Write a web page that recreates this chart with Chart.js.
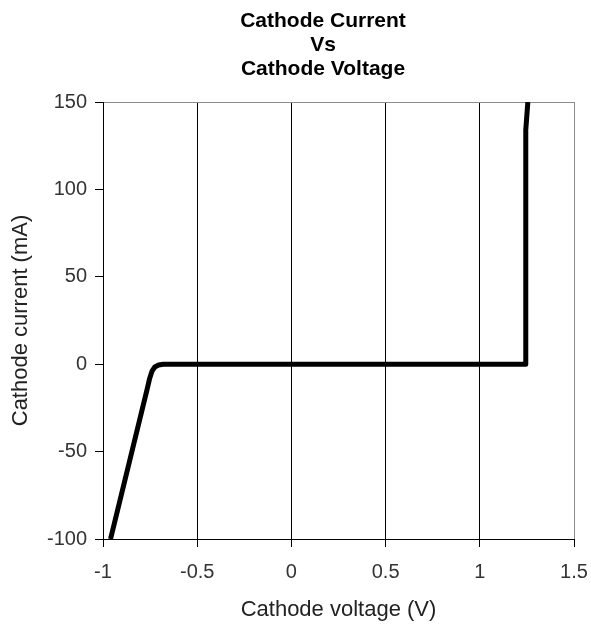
<!DOCTYPE html>
<html>
<head>
<meta charset="utf-8">
<title>Cathode Current Vs Cathode Voltage</title>
<script src="https://cdn.jsdelivr.net/npm/chart.js@4.4.1/dist/chart.umd.min.js"></script>
<style>
  html, body { margin: 0; padding: 0; background: #fff; }
  #chart { display: block; }
</style>
</head>
<body>
<canvas id="chart" width="591" height="625"></canvas>
<script>
// Cathode I-V curve: reverse breakdown knee on the left, forward turn-on on the right
const titleLines = ['Cathode Current', 'Vs', 'Cathode Voltage']
const voltage = [-0.96, -0.765, -0.752, -0.74, -0.725, -0.705, -0.68, -0.655, 0, 0.5, 1, 1.24, 1.243, 1.245, 1.255]
const current = [-100, -14, -8, -4, -1.6, -0.5, -0.05, 0, 0, 0, 0, 0, 0, 134, 150]
const xTicks = [-1, -0.5, 0, 0.5, 1, 1.5]
const yTicks = [-100, -50, 0, 50, 100, 150]

const FONT = "'Liberation Sans', Arial, sans-serif"
const FRAME_GRAY = '#8c8c8c'

// three-line bold heading above the plot
const headingPlugin = {
  id: 'heading',
  afterDraw(chart) {
    const ctx = chart.ctx
    ctx.save()
    ctx.fillStyle = '#000'
    ctx.font = 'bold 21px ' + FONT
    ctx.textAlign = 'center'
    ctx.textBaseline = 'alphabetic'
    titleLines.forEach((line, i) => ctx.fillText(line, 323, 27 + i * 24))
    ctx.restore()
  }
}

new Chart(document.getElementById('chart'), {
  type: 'scatter',
  data: {
    datasets: [{
      data: voltage.map((v, i) => ({ x: v, y: current[i] })),
      showLine: true,
      borderColor: '#000',
      borderWidth: 5,
      borderJoinStyle: 'round',
      borderCapStyle: 'butt',
      pointRadius: 0,
      tension: 0
    }]
  },
  options: {
    responsive: false,
    animation: false,
    layout: { padding: { top: 102, right: 17, bottom: 0, left: 0 } },
    plugins: {
      legend: { display: false },
      tooltip: { enabled: false }
    },
    scales: {
      x: {
        type: 'linear',
        min: -1,
        max: 1.5,
        afterBuildTicks: scale => { scale.ticks = xTicks.map(v => ({ value: v })) },
        afterFit: scale => {
          scale.height = 86
          scale.paddingLeft = 0
          scale.paddingRight = 0
        },
        grid: {
          color: c => (c.tick && c.tick.value === 1.5 ? FRAME_GRAY : '#000'),
          tickColor: '#000',
          lineWidth: 1,
          tickLength: 8
        },
        border: { color: '#000', width: 1 },
        ticks: {
          color: '#333',
          font: { family: FONT, size: 20 },
          padding: 13,
          maxRotation: 0,
          callback: v => String(v)
        },
        title: {
          display: true,
          text: 'Cathode voltage (V)',
          color: '#222',
          font: { family: FONT, size: 22 },
          padding: { top: 0, bottom: 2 }
        }
      },
      y: {
        type: 'linear',
        min: -100,
        max: 150,
        afterBuildTicks: scale => { scale.ticks = yTicks.map(v => ({ value: v })) },
        afterFit: scale => {
          scale.width = 103
          scale.paddingTop = 0
          scale.paddingBottom = 0
        },
        grid: {
          color: c => (c.tick && c.tick.value === 150 ? FRAME_GRAY : 'rgba(0,0,0,0)'),
          tickColor: '#000',
          lineWidth: 1,
          tickLength: 8
        },
        border: { color: '#000', width: 1 },
        ticks: {
          color: '#333',
          font: { family: FONT, size: 20 },
          padding: 8
        },
        title: {
          display: true,
          text: 'Cathode current (mA)',
          color: '#222',
          font: { family: FONT, size: 22 },
          padding: { top: 8, bottom: 0 }
        }
      }
    }
  },
  plugins: [headingPlugin]
})
</script>
</body>
</html>
